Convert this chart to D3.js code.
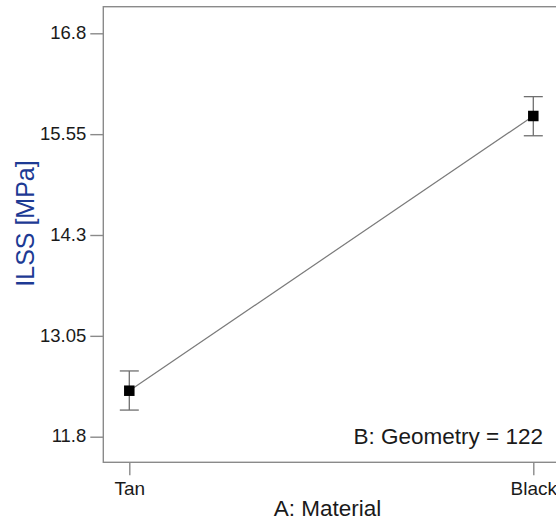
<!DOCTYPE html>
<html>
<head>
<meta charset="utf-8">
<script src="https://cdn.jsdelivr.net/npm/d3@7"></script>
<style>
  html, body { margin: 0; padding: 0; background: #fff; }
  svg { display: block; }
  text { font-family: "Liberation Sans", Arial, sans-serif; }
</style>
</head>
<body>
<svg id="chart" width="556" height="523"></svg>
<script>
// Interaction plot: ILSS by material at fixed geometry
const categories = ["Tan", "Black"];
const means = [12.37, 15.775];
const errLow = [12.13, 15.53];
const errHigh = [12.615, 16.015];
const yTicks = [11.8, 13.05, 14.3, 15.55, 16.8];
const yTickLabels = ["11.8", "13.05", "14.3", "15.55", "16.8"];

const svg = d3.select("#chart");

// plot frame (right edge runs past the visible area)
const frame = { left: 103.3, top: 6.7, right: 559.3, bottom: 462.3 };

const x = d3.scalePoint()
  .domain(categories)
  .range([129.3, 533.3]);

const y = d3.scaleLinear()
  .domain([11.8, 16.8])
  .range([436.7, 33.3]);

const gray = "#8a8a8a";

// frame
svg.append("rect")
  .attr("x", frame.left).attr("y", frame.top)
  .attr("width", frame.right - frame.left)
  .attr("height", frame.bottom - frame.top)
  .attr("fill", "none")
  .attr("stroke", gray)
  .attr("stroke-width", 1.4);

// y axis ticks + labels
const yAxis = d3.axisLeft(y)
  .tickValues(yTicks)
  .tickFormat((d, i) => yTickLabels[i])
  .tickSize(13)
  .tickPadding(4);

const gy = svg.append("g")
  .attr("transform", `translate(${frame.left},0)`)
  .call(yAxis);
gy.select(".domain").remove();
gy.selectAll(".tick line").attr("stroke", gray).attr("stroke-width", 1.4);
gy.selectAll(".tick text")
  .attr("fill", "#1a1a1a")
  .attr("font-size", 18.5)
  .attr("dy", "0.28em");

// x axis ticks + labels
const xAxis = d3.axisBottom(x)
  .tickSize(13)
  .tickPadding(6);

const gx = svg.append("g")
  .attr("transform", `translate(0,${frame.bottom})`)
  .call(xAxis);
gx.select(".domain").remove();
gx.selectAll(".tick line").attr("stroke", gray).attr("stroke-width", 1.4);
gx.selectAll(".tick text")
  .attr("fill", "#1a1a1a")
  .attr("font-size", 19)
  .attr("dy", "0.71em");

// connecting line between the means
const line = d3.line()
  .x((d, i) => x(categories[i]))
  .y(d => y(d));

svg.append("path")
  .datum(means)
  .attr("d", line)
  .attr("fill", "none")
  .attr("stroke", "#7a7a7a")
  .attr("stroke-width", 1.2);

// error bars
const capHalf = 9.5;
const eb = svg.append("g").attr("stroke", "#6f6f6f").attr("stroke-width", 1.3);
categories.forEach((c, i) => {
  const cx = x(c);
  eb.append("line")
    .attr("x1", cx).attr("x2", cx)
    .attr("y1", y(errHigh[i])).attr("y2", y(errLow[i]));
  eb.append("line")
    .attr("x1", cx - capHalf).attr("x2", cx + capHalf)
    .attr("y1", y(errHigh[i])).attr("y2", y(errHigh[i]));
  eb.append("line")
    .attr("x1", cx - capHalf).attr("x2", cx + capHalf)
    .attr("y1", y(errLow[i])).attr("y2", y(errLow[i]));
});

// mean markers
const sq = 10.5;
svg.append("g")
  .selectAll("rect")
  .data(means)
  .join("rect")
  .attr("x", (d, i) => x(categories[i]) - sq / 2)
  .attr("y", d => y(d) - sq / 2)
  .attr("width", sq)
  .attr("height", sq)
  .attr("fill", "#000");

// annotation
svg.append("text")
  .attr("x", 543)
  .attr("y", 444)
  .attr("text-anchor", "end")
  .attr("font-size", 22.5)
  .attr("fill", "#1a1a1a")
  .text("B: Geometry = 122");

// axis titles
svg.append("text")
  .attr("x", 327.5)
  .attr("y", 516)
  .attr("text-anchor", "middle")
  .attr("font-size", 22.5)
  .attr("fill", "#1a1a1a")
  .text("A: Material");

svg.append("text")
  .attr("transform", "translate(33.5,223.5) rotate(-90)")
  .attr("text-anchor", "middle")
  .attr("font-size", 25)
  .attr("fill", "#1d3a94")
  .text("ILSS [MPa]");
</script>
</body>
</html>
